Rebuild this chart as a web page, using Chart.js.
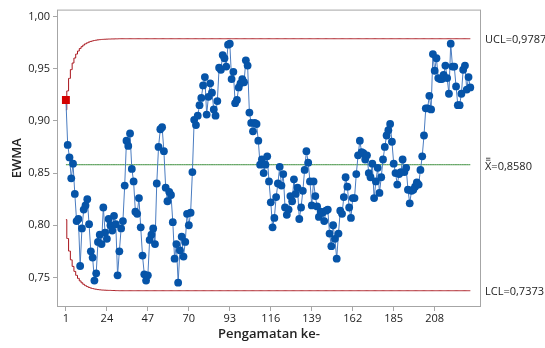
<!DOCTYPE html>
<html>
<head>
<meta charset="utf-8">
<script src="https://cdn.jsdelivr.net/npm/chart.js@4"></script>
<style>
  html, body { margin: 0; padding: 0; background: #fff; }
  #wrap { width: 545px; height: 348px; }
</style>
</head>
<body>
<div id="wrap"><canvas id="ewmaChart" width="545" height="348"></canvas></div>
<script>
const ewma = [
  0.920, 0.877, 0.865, 0.845, 0.859, 0.830, 0.804, 0.806, 0.761, 0.797,
  0.815, 0.819, 0.825, 0.801, 0.775, 0.769, 0.747, 0.754, 0.784, 0.791,
  0.782, 0.817, 0.793, 0.787, 0.806, 0.800, 0.795, 0.809, 0.801, 0.752,
  0.775, 0.797, 0.804, 0.838, 0.881, 0.876, 0.888, 0.854, 0.842, 0.813,
  0.811, 0.826, 0.798, 0.771, 0.753, 0.747, 0.752, 0.786, 0.791, 0.797,
  0.782, 0.840, 0.875, 0.892, 0.894, 0.871, 0.836, 0.823, 0.832, 0.829,
  0.803, 0.768, 0.782, 0.745, 0.776, 0.789, 0.770, 0.784, 0.811, 0.800,
  0.812, 0.851, 0.901, 0.896, 0.905, 0.915, 0.922, 0.934, 0.942, 0.906,
  0.923, 0.936, 0.927, 0.911, 0.905, 0.919, 0.951, 0.949, 0.963, 0.960,
  0.952, 0.973, 0.974, 0.940, 0.947, 0.917, 0.920, 0.932, 0.936, 0.940,
  0.937, 0.958, 0.953, 0.908, 0.898, 0.890, 0.898, 0.897, 0.881, 0.858,
  0.863, 0.850, 0.858, 0.866, 0.842, 0.822, 0.798, 0.807, 0.827, 0.840,
  0.856, 0.838, 0.849, 0.817, 0.810, 0.815, 0.828, 0.823, 0.844, 0.830,
  0.836, 0.806, 0.817, 0.833, 0.853, 0.871, 0.860, 0.842, 0.819, 0.842,
  0.828, 0.818, 0.808, 0.813, 0.812, 0.804, 0.814, 0.815, 0.792, 0.780,
  0.800, 0.787, 0.768, 0.792, 0.814, 0.811, 0.827, 0.846, 0.837, 0.817,
  0.807, 0.826, 0.826, 0.849, 0.867, 0.881, 0.870, 0.869, 0.863, 0.867,
  0.850, 0.846, 0.859, 0.826, 0.842, 0.855, 0.831, 0.846, 0.863, 0.875,
  0.886, 0.891, 0.897, 0.880, 0.859, 0.850, 0.839, 0.849, 0.851, 0.863,
  0.851, 0.855, 0.834, 0.821, 0.833, 0.834, 0.837, 0.841, 0.839, 0.853,
  0.866, 0.886, 0.912, 0.912, 0.924, 0.911, 0.964, 0.948, 0.960, 0.941,
  0.940, 0.940, 0.944, 0.953, 0.941, 0.926, 0.974, 0.952, 0.952, 0.933,
  0.915, 0.915, 0.926, 0.949, 0.953, 0.930, 0.942, 0.932
];

// control limits: widening part at the start, then steady
const uclStart = [
  0.9106, 0.9287, 0.9407, 0.9491, 0.9554, 0.9602, 0.9640, 0.9669, 0.9693, 0.9711,
  0.9726, 0.9738, 0.9747, 0.9755, 0.9761, 0.9766, 0.9770, 0.9773, 0.9776, 0.9778,
  0.9780, 0.9781, 0.9782, 0.9783, 0.9784, 0.9784, 0.9785, 0.9785, 0.9786, 0.9786
];
const lclStart = [
  0.8054, 0.7873, 0.7753, 0.7669, 0.7606, 0.7558, 0.7520, 0.7491, 0.7467, 0.7449,
  0.7434, 0.7422, 0.7413, 0.7405, 0.7399, 0.7394, 0.7390, 0.7387, 0.7384, 0.7382,
  0.7380, 0.7379, 0.7378, 0.7377, 0.7376, 0.7376, 0.7375, 0.7375, 0.7374, 0.7374
];
const UCL = 0.9787;
const CL = 0.8580;
const LCL = 0.7373;

const xTicks = [1, 24, 47, 70, 93, 116, 139, 162, 185, 208];
const yTicks = [0.75, 0.80, 0.85, 0.90, 0.95, 1.00];

const n = ewma.length;
const fmt = v => v.toFixed(2).replace('.', ',');

const seriesPts = ewma.map((v, i) => ({x: i + 1, y: v}));
const uclPts = [], lclPts = [], clPts = [];
for (let i = 0; i < n; i++) {
    uclPts.push({x: i + 1, y: i < uclStart.length ? uclStart[i] : UCL});
    lclPts.push({x: i + 1, y: i < lclStart.length ? lclStart[i] : LCL});
    clPts.push({x: i + 1, y: CL});
}

// out of control points get a red square
const outside = ewma.map((v, i) => v > uclPts[i].y || v < lclPts[i].y);
const ptStyle = outside.map(o => o ? 'rect' : 'circle');
const ptColor = outside.map(o => o ? '#d40000' : '#0654a8');
const ptRadius = outside.map(o => o ? 5.6 : 3.9);

const FONT = "'Open Sans', 'Noto Sans', sans-serif";
const GREY = '#a6a6a6';

const framePlugin = {
    id: 'frame',
    beforeDatasetsDraw(chart) {
        const a = chart.chartArea, c = chart.ctx;
        c.save();
        c.strokeStyle = GREY;
        c.lineWidth = 1;
        c.strokeRect(a.left + 0.5, a.top + 0.5, a.right - a.left - 1, a.bottom - a.top - 1);
        c.restore();
    },
    afterDraw(chart) {
        const a = chart.chartArea, c = chart.ctx, ys = chart.scales.y;
        c.save();
        c.font = "11px " + FONT;
        c.fillStyle = '#222';
        c.textBaseline = 'alphabetic';
        c.textAlign = 'left';
        const x0 = a.right + 4;
        c.fillText('UCL=' + UCL.toFixed(4).replace('.', ','), x0, ys.getPixelForValue(UCL) + 4);
        c.fillText('LCL=' + LCL.toFixed(4).replace('.', ','), x0, ys.getPixelForValue(LCL) + 4);
        const yb = ys.getPixelForValue(CL) + 5;
        c.fillText('X=' + CL.toFixed(4).replace('.', ','), x0, yb);
        // double bar over the X
        const w = c.measureText('X').width;
        c.strokeStyle = '#222';
        c.lineWidth = 0.8;
        c.beginPath();
        c.moveTo(x0 + 1, yb - 9.5); c.lineTo(x0 + w - 1, yb - 9.5);
        c.moveTo(x0 + 1, yb - 11.5); c.lineTo(x0 + w - 1, yb - 11.5);
        c.stroke();
        c.restore();
    }
};

new Chart(document.getElementById('ewmaChart'), {
    type: 'line',
    data: {
        datasets: [{
            label: 'EWMA',
            data: seriesPts,
            order: 0,
            borderColor: '#4a7cc0',
            borderWidth: 1,
            pointStyle: ptStyle,
            pointBackgroundColor: ptColor,
            pointBorderColor: ptColor,
            pointRadius: ptRadius,
            pointBorderWidth: 0,
            tension: 0
        }, {
            label: 'UCL',
            data: uclPts,
            order: 1,
            borderColor: '#a8141c',
            borderWidth: 1,
            pointRadius: 0,
            stepped: 'middle'
        }, {
            label: 'LCL',
            data: lclPts,
            order: 1,
            borderColor: '#a8141c',
            borderWidth: 1,
            pointRadius: 0,
            stepped: 'middle'
        }, {
            label: 'CL',
            data: clPts,
            order: 1,
            borderColor: '#3d8f3d',
            borderWidth: 1,
            pointRadius: 0
        }]
    },
    options: {
        responsive: false,
        animation: false,
        events: [],
        layout: { padding: { top: 5, right: 64, left: 0, bottom: 0 } },
        plugins: { legend: { display: false }, tooltip: { enabled: false } },
        scales: {
            x: {
                type: 'linear',
                min: -4,
                max: 234,
                afterBuildTicks: s => { s.ticks = xTicks.map(v => ({value: v})); },
                afterFit: s => { s.height = 41; },
                grid: { display: true, drawOnChartArea: false, tickLength: 4, color: GREY },
                border: { display: false },
                ticks: { color: '#222', font: { size: 11, family: FONT }, padding: 1, maxRotation: 0 },
                title: { display: true, text: 'Pengamatan ke-', color: '#222',
                         font: { size: 13, weight: '600', family: FONT }, padding: { top: 0, bottom: 6 } }
            },
            y: {
                min: 0.7217,
                max: 1.0066,
                afterBuildTicks: s => { s.ticks = yTicks.map(v => ({value: v})); },
                afterFit: s => { s.width = 57; },
                grid: { display: true, drawOnChartArea: false, tickLength: 4, color: GREY },
                border: { display: false },
                ticks: { color: '#222', font: { size: 11, family: FONT }, padding: 3, callback: v => fmt(v) },
                title: { display: true, text: 'EWMA', color: '#222',
                         font: { size: 13, weight: '600', family: FONT }, padding: { top: 9, bottom: 0 } }
            }
        }
    },
    plugins: [framePlugin]
});
</script>
</body>
</html>
